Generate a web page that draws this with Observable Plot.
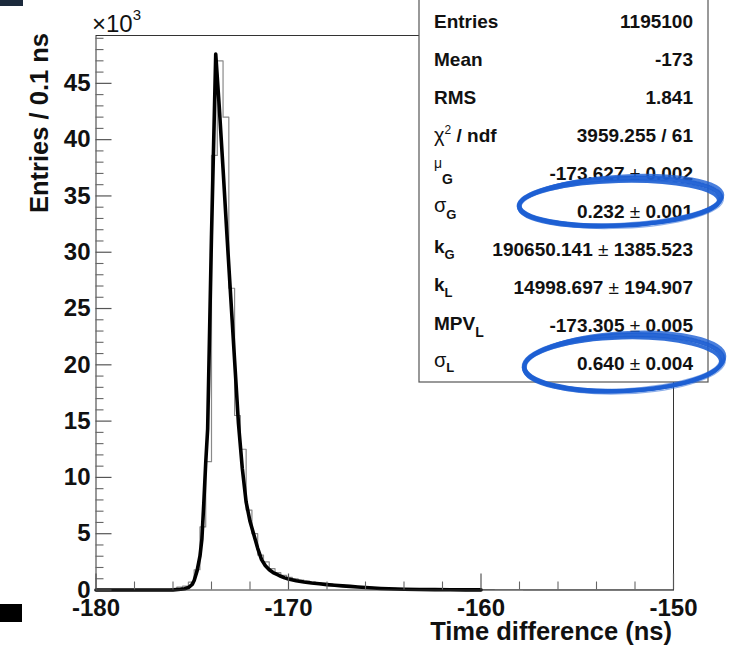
<!DOCTYPE html>
<html><head><meta charset="utf-8">
<script src="https://cdn.jsdelivr.net/npm/d3@7"></script>
<script src="https://cdn.jsdelivr.net/npm/@observablehq/plot@0.6"></script>
<style>
html,body{margin:0;padding:0;background:#fff;}
#chart{position:relative;width:730px;height:646px;overflow:hidden;}
</style></head><body><div id="chart"></div>
<script>
// ---- histogram binning (100 bins, -180 .. -150 ns)
const binLowEdge = -180;
const binWidth = 0.3;
const histCounts = [
  5,5,8,8,10,10,12,15,15,20,25,30,40,
  100,250,350,700,1800,5600,11400,38600,47000,42000,26800,15500,12500,7100,5000,3100,2500,
  1900,1550,1300,1120,980,870,780,700,640,580,520,470,430,390,350,310,275,245,215,190,
  165,145,125,110,95,85,75,65,58,52,46,42,38,35,32,30,28,26,
  25,24,23,22,22,21,20,20,19,19,18,18,17,17,17,16,16,16,15,15,15,15,14,14,14,14,13,13,13,13,12,12
];
// ---- fit curve (Gaussian + Landau)
const fitX = [-180,-177,-176,-175.6,-175.4,-175.2,-175.0,-174.9,-174.75,-174.6,-174.5,-174.4,-174.3,-174.2,-174.0,-173.78,
  -173.6,-173.4,-173.2,-173.0,-172.8,-172.6,-172.4,-172.2,-172.0,-171.8,-171.6,-171.4,-171.2,-171.0,-170.8,-170.6,-170.4,-170.2,-170.0,
  -169.6,-169.2,-168.8,-168.4,-168.0,-167.6,-167.2,-166.8,-166.4,-166.0,-165.6,-165.2,-164.8,-164.4,-164.0,-163.2,-162.4,-161.6,-160.8,-160.0];
const fitY = [0,0,10,60,120,220,500,850,1700,3000,4500,7700,11300,14300,31500,47600,
  43000,37400,31600,26000,20400,14800,10800,7800,6100,4900,3700,2700,2150,1800,1550,1380,1220,1080,970,
  820,710,620,550,480,420,370,320,270,220,180,140,110,90,70,50,30,20,15,10];
// ---- axes
const xDomain = [-180, -150];
const yDomain = [0, 49250];
const xMajor = [-180, -170, -160, -150];
const xMinor = [-178,-176,-174,-172,-168,-166,-164,-162,-158,-156,-154,-152];
const yMajor = [0,5000,10000,15000,20000,25000,30000,35000,40000,45000];
const yMinor = d3.range(1000, 49001, 1000).filter(v => v % 5000 !== 0);
const xTitle = "Time difference (ns)";
const yTitle = "Entries / 0.1 ns";
// ---- stats box
const statNames = ["Entries","Mean","RMS","chi2ndf","muG","sigmaG","kG","kL","MPVL","sigmaL"];
const statValues = ["1195100","-173","1.841","3959.255 / 61","-173.627 ± 0.002","0.232 ± 0.001",
  "190650.141 ± 1385.523","14998.697 ± 194.907","-173.305 ± 0.005","0.640 ± 0.004"];
const circledRows = [5, 9];

const histPts = histCounts.map((c, i) => ({x: binLowEdge + i * binWidth, y: c}));
histPts.push({x: binLowEdge + histCounts.length * binWidth, y: histCounts[histCounts.length - 1]});
const fitPts = fitX.map((x, i) => ({x, y: fitY[i]}));

const FONT = "'Liberation Sans', Arial, Helvetica, sans-serif";

const plot = Plot.plot({
  width: 730, height: 646,
  marginLeft: 95.5, marginRight: 57, marginTop: 35, marginBottom: 56.5,
  style: {fontFamily: FONT, background: "white", overflow: "visible"},
  x: {domain: xDomain, axis: null},
  y: {domain: yDomain, axis: null},
  marks: [
    Plot.line(histPts, {x: "x", y: "y", curve: "step-after", stroke: "#8a8a8a", strokeWidth: 1.2}),
    Plot.line(fitPts, {x: "x", y: "y", stroke: "#000", strokeWidth: 3.6, strokeLinejoin: "round", strokeLinecap: "round"}),
    Plot.frame({stroke: "#333", strokeWidth: 1}),
    Plot.ruleY(yMajor, {y: d => d, x1: xDomain[0], x2: xDomain[0], insetRight: -16, stroke: "#555", strokeWidth: 1.2}),
    Plot.ruleY(yMinor, {y: d => d, x1: xDomain[0], x2: xDomain[0], insetRight: -8, stroke: "#666", strokeWidth: 1.1}),
    Plot.ruleX(xMajor, {x: d => d, y1: 0, y2: 0, insetTop: -16, stroke: "#555", strokeWidth: 1.2}),
    Plot.ruleX(xMinor, {x: d => d, y1: 0, y2: 0, insetTop: -8, stroke: "#666", strokeWidth: 1.1}),
    Plot.text(xMajor, {x: d => d, y: yDomain[0], text: d => String(d), dy: 18, fontSize: 24, fontWeight: "bold", fill: "#111"}),
    Plot.text(yMajor, {x: xDomain[0], y: d => d, text: d => String(d / 1000), textAnchor: "end", dx: -5.5, fontSize: 24, fontWeight: "bold", fill: "#111"})
  ]
});
document.getElementById("chart").appendChild(plot);

const svg = d3.select(plot);
// decorative dark blocks at the edges of the screenshot
svg.append("rect").attr("x", 0).attr("y", 0).attr("width", 23).attr("height", 6).attr("fill", "#1c2a3c");
svg.append("rect").attr("x", 0).attr("y", 604).attr("width", 22).attr("height", 18).attr("fill", "#000");

// axis titles
svg.append("text").attr("x", 672).attr("y", 640).attr("text-anchor", "end")
  .attr("font-family", FONT).attr("font-size", 25.5).attr("font-weight", "bold").attr("fill", "#111").text(xTitle);
svg.append("text").attr("transform", "translate(48,33) rotate(-90)").attr("text-anchor", "end")
  .attr("font-family", FONT).attr("font-size", 25.5).attr("font-weight", "bold").attr("fill", "#111").text(yTitle);
// exponent
const ex = svg.append("text").attr("x", 92).attr("y", 32).attr("text-anchor", "start")
  .attr("font-family", FONT).attr("font-size", 24).attr("fill", "#111");
ex.append("tspan").text("×10");
ex.append("tspan").attr("dy", -12).attr("font-size", 15).text("3");

// stats box
const bx = 419, bw = 289, by = -1, bh = 383;
svg.append("rect").attr("x", bx).attr("y", by).attr("width", bw).attr("height", bh)
  .attr("fill", "#fff").attr("stroke", "#555").attr("stroke-width", 1.2);
const labX = 434, valX = 693;
const base = i => 28 + 38 * i;
function label(i) {
  const t = svg.append("text").attr("x", labX).attr("y", base(i)).attr("text-anchor", "start")
    .attr("font-family", FONT).attr("font-size", 19).attr("font-weight", "bold").attr("fill", "#111");
  const name = statNames[i];
  const sub = (main, mainOpts, subTxt, subDy, subSize) => {
    const a = t.append("tspan").text(main);
    if (mainOpts.weight) a.attr("font-weight", mainOpts.weight);
    if (mainOpts.dy) a.attr("dy", mainOpts.dy);
    if (mainOpts.size) a.attr("font-size", mainOpts.size);
    t.append("tspan").attr("dy", subDy).attr("font-size", subSize).attr("font-weight", "bold").text(subTxt);
  };
  if (name === "chi2ndf") {
    t.append("tspan").attr("font-weight", "normal").attr("font-size", 20).text("χ");
    t.append("tspan").attr("dy", -8).attr("font-size", 12).attr("font-weight", "normal").text("2");
    t.append("tspan").attr("dy", 8).text(" / ndf");
  } else if (name === "muG") {
    sub("μ", {weight: "normal", dy: -12, size: 14}, "G", 16, 14);
  } else if (name === "sigmaG") {
    sub("σ", {weight: "normal", dy: -6, size: 20}, "G", 7, 13);
  } else if (name === "sigmaL") {
    sub("σ", {weight: "normal", dy: -3, size: 20}, "L", 5, 13);
  } else if (name === "kG") {
    sub("k", {dy: -3}, "G", 6, 13);
  } else if (name === "kL") {
    sub("k", {dy: -3}, "L", 6, 13);
  } else if (name === "MPVL") {
    sub("MPV", {dy: -2}, "L", 7, 14);
  } else {
    t.text(name);
  }
}
function value(i) {
  const t = svg.append("text").attr("x", valX).attr("y", base(i)).attr("text-anchor", "end")
    .attr("font-family", FONT).attr("font-size", 19).attr("font-weight", "bold").attr("fill", "#111");
  const parts = statValues[i].split("±");
  if (parts.length === 2) {
    t.append("tspan").text(parts[0]);
    t.append("tspan").attr("font-weight", "normal").text("±");
    t.append("tspan").text(parts[1]);
  } else t.text(statValues[i]);
}
statNames.forEach((_, i) => { label(i); value(i); });

// blue hand-drawn ellipses around the sigma values
const blue = "#1d5fd3";
circledRows.forEach((r, k) => {
  const cy = base(r) - (k === 0 ? 16 : 7);
  const cx = k === 0 ? 620 : 623.5;
  const rx = k === 0 ? 101 : 99.5;
  const ry = k === 0 ? 23.5 : 28;
  const strokes = [
    {dx: 0, dy: 0, rx: 0, ry: 0, w: 4.5, rot: -2.5, o: 0.95},
    {dx: -0.8, dy: 1.2, rx: -1.5, ry: -1.5, w: 3.5, rot: -1.5, o: 0.9},
    {dx: 0.8, dy: -0.8, rx: 1.2, ry: 1.5, w: 3.0, rot: -3.5, o: 0.8},
    {dx: 0.3, dy: 0.4, rx: 2.2, ry: 2.4, w: 1.2, rot: -2.2, o: 0.5},
    {dx: -0.3, dy: 0.2, rx: -2.4, ry: -2.4, w: 1.2, rot: -2.8, o: 0.5}
  ];
  strokes.forEach(s => {
    svg.append("ellipse").attr("cx", cx + s.dx).attr("cy", cy + s.dy).attr("rx", rx + s.rx).attr("ry", ry + s.ry)
      .attr("transform", `rotate(${s.rot},${cx},${cy})`)
      .attr("fill", "none").attr("stroke", blue).attr("stroke-width", s.w).attr("opacity", s.o);
  });
});
</script>
</body></html>
